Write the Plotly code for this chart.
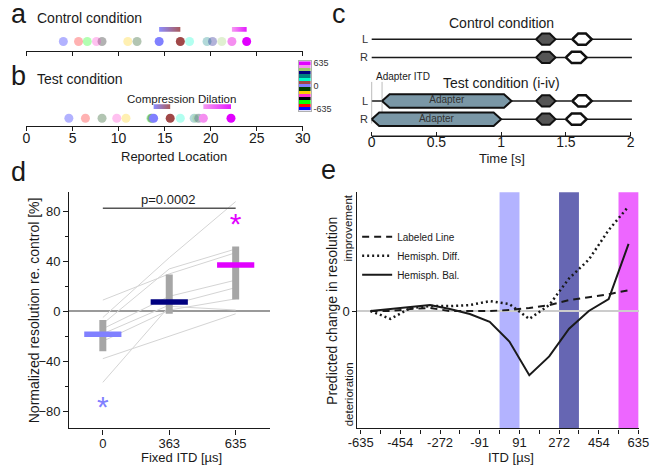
import plotly.graph_objects as go

W, H = 660, 468
FONT = "Liberation Sans, Arial, sans-serif"
INK = "#1a1a1a"

# ---------------- data ----------------
ITD_LEVELS = [-635, -544, -454, -363, -272, -181, -91, 0, 91, 181, 272, 363, 454, 544, 635]
LEVEL_COLORS = ["#0000ff", "#ff0000", "#00ff00", "#000000", "#ff33cc", "#ffcc00",
                "#004000", "#8080ff", "#a04848", "#00ffcc", "#008080", "#000080",
                "#99cc66", "#f58ff0", "#e100ff"]
HIGHLIGHT_ITDS = [0, 91, 544, 635]
CONTROL_LOC = [4.0, 5.65, 6.6, 8.2, 7.6, 11.0, 12.0, 14.4, 16.7, 17.7, 19.6, 20.2, 21.2, 22.3, 23.9]
TEST_LOC = [4.6, 6.4, 13.5, 13.6, 9.8, 10.8, 8.2, 13.8, 15.6, 16.7, 18.2, 18.7, 18.5, 19.2, 22.2]
COMPRESSION_PAIR = (0, 91)
DILATION_PAIR = (544, 635)
LOC_TICKS = [0, 5, 10, 15, 20, 25, 30]

# panel c: stimulus timing [s]
EARS = ["L", "R"]
TRIAL_END = 2.01
PROBE1 = {"L": (1.27, 1.42), "R": (1.27, 1.42)}
PROBE2 = {"L": (1.55, 1.70), "R": (1.50, 1.66)}
ADAPTER = {"L": (0.08, 1.08), "R": (0.0, 1.0)}
TIME_TICKS = [0, 0.5, 1, 1.5, 2]
TIME_LABELS = ["0", "0.5", "1", "1.5", "2"]

# panel d
FIXED_ITD = ["0", "363", "635"]
SUBJECTS = [
    [9, 30, 47],
    [-5, 43, 88],
    [-10, 34, 50],
    [-14, 12, 25],
    [-18, 5, 19],
    [-24, 1, 10],
    [-38, -20, -2],
    [-57, 4, 1],
]
MEAN = [-18.5, 7.5, 37.2]
SPREAD_LO = [-32, -2, 9.5]
SPREAD_HI = [-7, 29.5, 52]
SIG_LEVEL = 82.6
P_TEXT = "p=0.0002"
STAR_Y = [-79, None, 68]
D_YTICKS = [-80, -40, 0, 40, 80]
D_MINOR = [-60, -20, 20, 60]

# panel e (arbitrary units)
MODEL_ITD = [-590, -499, -408, -318, -227, -136, -45, 45, 136, 227, 318, 408, 499, 590]
LABELED_LINE = [0, 0, 2, 3, 0, 0, 0, 1, 3, 6, 11, 14, 17, 21]
HEMI_DIFF = [0, -8, 3, 5, 5, 6, 10, 7, -8, 6, 33, 52, 82, 106]
HEMI_BAL = [0, 2, 4, 6, 2, -3, -11, -31, -65, -46, -18, 0, 12, 68]
BANDS = [(0, 91), (272, 363), (544, 635)]
BAND_ITDS = [0, 363, 635]


# ---------------- helpers ----------------
def dom_x(p0, p1):
    return [p0 / W, p1 / W]


def dom_y(top, bottom):
    return [1 - bottom / H, 1 - top / H]


def px(p):
    return p / W


def py(p):
    return 1 - p / H


def rgba(hexc, a):
    h = hexc.lstrip("#")
    r, g, b = int(h[0:2], 16), int(h[2:4], 16), int(h[4:6], 16)
    return f"rgba({r},{g},{b},{a})"


def color_of(itd):
    return LEVEL_COLORS[ITD_LEVELS.index(itd)]


def hexagon(t0, t1, y, h, d):
    xs = [t0, t0 + d, t1 - d, t1, t1 - d, t0 + d, t0]
    ys = [y, y - h, y - h, y, y + h, y + h, y]
    return xs, ys


fig = go.Figure()

# ---------------- panels a & b ----------------
DOT_LEVEL = {"a": 10, "b": 8.3}
BAR_LEVEL = {"a": 22.3, "b": 20}
BAR_HALF = 2.4
for key, locs, xa, ya in [("a", CONTROL_LOC, "x", "y"), ("b", TEST_LOC, "x2", "y2")]:
    order = [i for i in range(len(ITD_LEVELS)) if ITD_LEVELS[i] not in HIGHLIGHT_ITDS] + \
            [i for i in range(len(ITD_LEVELS)) if ITD_LEVELS[i] in HIGHLIGHT_ITDS]
    fig.add_trace(go.Scatter(
        x=[locs[i] for i in order], y=[DOT_LEVEL[key]] * len(order), mode="markers",
        marker=dict(size=9, color=[rgba(LEVEL_COLORS[i], 1 if ITD_LEVELS[i] in HIGHLIGHT_ITDS else 0.3)
                                   for i in order], line=dict(width=0)),
        xaxis=xa, yaxis=ya, showlegend=False, hoverinfo="skip"))
    for a, b in [COMPRESSION_PAIR, DILATION_PAIR]:
        x0 = locs[ITD_LEVELS.index(a)]
        x1 = locs[ITD_LEVELS.index(b)]
        y0, y1 = BAR_LEVEL[key] - BAR_HALF, BAR_LEVEL[key] + BAR_HALF
        fig.add_trace(go.Scatter(
            x=[x0, x1, x1, x0, x0], y=[y0, y0, y1, y1, y0], mode="lines", fill="toself",
            fillgradient=dict(type="horizontal", colorscale=[[0, rgba(color_of(a), 0.9)], [1, rgba(color_of(b), 0.9)]]),
            line=dict(width=0, color="rgba(0,0,0,0)"),
            xaxis=xa, yaxis=ya, showlegend=False, hoverinfo="skip"))

# colour key
ncol = len(ITD_LEVELS)
cscale = []
for i, c in enumerate(LEVEL_COLORS):
    cscale.append([i / ncol, c])
    cscale.append([(i + 1) / ncol, c])
fig.add_trace(go.Heatmap(
    z=[[i] for i in range(ncol)], x=[0], y=list(range(ncol)), colorscale=cscale,
    zmin=-0.5, zmax=ncol - 0.5, showscale=False, xaxis="x3", yaxis="y3", hoverinfo="skip"))

# ---------------- panel c ----------------
ROW_Y = {"control": {"L": 0.0, "R": 1.0}, "test": {"L": 3.4, "R": 4.4}}
H_PROBE, D_PROBE = 0.31, 0.045
H_ADAPT, D_ADAPT = 0.37, 0.058
for cond in ["control", "test"]:
    for ear in EARS:
        y = ROW_Y[cond][ear]
        fig.add_trace(go.Scatter(x=[0, TRIAL_END], y=[y, y], mode="lines",
                                 line=dict(color=INK, width=1.5), xaxis="x4", yaxis="y4",
                                 showlegend=False, hoverinfo="skip"))
for ear in EARS:
    on = ADAPTER[ear][0]
    fig.add_trace(go.Scatter(x=[on, on], y=[2.35, 4.64], mode="lines",
                             line=dict(color="#aaaaaa", width=0.8), xaxis="x4", yaxis="y4",
                             showlegend=False, hoverinfo="skip"))
for cond in ["control", "test"]:
    for ear in EARS:
        y = ROW_Y[cond][ear]
        if cond == "test":
            xs, ys = hexagon(ADAPTER[ear][0], ADAPTER[ear][1], y, H_ADAPT, D_ADAPT)
            fig.add_trace(go.Scatter(x=xs, y=ys, mode="lines", fill="toself", fillcolor="#7a97a6",
                                     line=dict(color="#111111", width=2), xaxis="x4", yaxis="y4",
                                     showlegend=False, hoverinfo="skip"))
            fig.add_trace(go.Scatter(x=[(ADAPTER[ear][0] + ADAPTER[ear][1]) / 2], y=[y], mode="text",
                                     text=["Adapter"], textfont=dict(size=10, color="#333333", family=FONT),
                                     xaxis="x4", yaxis="y4", showlegend=False, hoverinfo="skip"))
        xs, ys = hexagon(PROBE1[ear][0], PROBE1[ear][1], y, H_PROBE, D_PROBE)
        fig.add_trace(go.Scatter(x=xs, y=ys, mode="lines", fill="toself", fillcolor="#555555",
                                 line=dict(color="#111111", width=2), xaxis="x4", yaxis="y4",
                                 showlegend=False, hoverinfo="skip"))
        xs, ys = hexagon(PROBE2[ear][0], PROBE2[ear][1], y, H_PROBE, D_PROBE)
        fig.add_trace(go.Scatter(x=xs, y=ys, mode="lines", fill="toself", fillcolor="white",
                                 line=dict(color="#111111", width=2.5), xaxis="x4", yaxis="y4",
                                 showlegend=False, hoverinfo="skip"))

# ---------------- panel d ----------------
IDX = list(range(len(FIXED_ITD)))
for s in SUBJECTS:
    fig.add_trace(go.Scatter(x=IDX, y=s, mode="lines", line=dict(color="#d4d4d4", width=1),
                             xaxis="x5", yaxis="y5", showlegend=False, hoverinfo="skip"))
for i in IDX:
    fig.add_trace(go.Scatter(x=[i, i], y=[SPREAD_LO[i], SPREAD_HI[i]], mode="lines",
                             line=dict(color="#a6a6a6", width=7), xaxis="x5", yaxis="y5",
                             showlegend=False, hoverinfo="skip"))
for i in IDX:
    c = color_of(int(FIXED_ITD[i]))
    fig.add_trace(go.Scatter(x=[i - 0.28, i + 0.28], y=[MEAN[i], MEAN[i]], mode="lines",
                             line=dict(color=c, width=5.5), xaxis="x5", yaxis="y5",
                             showlegend=False, hoverinfo="skip"))
fig.add_trace(go.Scatter(x=[IDX[0], IDX[-1]], y=[SIG_LEVEL, SIG_LEVEL], mode="lines",
                         line=dict(color="#555555", width=1.5), xaxis="x5", yaxis="y5",
                         showlegend=False, hoverinfo="skip"))
for i in IDX:
    if STAR_Y[i] is not None:
        fig.add_trace(go.Scatter(x=[i], y=[STAR_Y[i]], mode="text", text=["*"],
                                 textfont=dict(size=30, color=color_of(int(FIXED_ITD[i])), family=FONT),
                                 xaxis="x5", yaxis="y5", showlegend=False, hoverinfo="skip"))

# ---------------- panel e ----------------
shapes = []
for (b0, b1), itd in zip(BANDS, BAND_ITDS):
    shapes.append(dict(type="rect", xref="x6", yref="y6 domain", x0=b0, x1=b1, y0=0, y1=1,
                       fillcolor=color_of(itd), opacity=0.6, line=dict(width=0), layer="below"))
fig.add_trace(go.Scatter(x=MODEL_ITD, y=LABELED_LINE, mode="lines", name="Labeled Line",
                         line=dict(color=INK, width=2, dash="7px,5px"), xaxis="x6", yaxis="y6"))
fig.add_trace(go.Scatter(x=MODEL_ITD, y=HEMI_DIFF, mode="lines", name="Hemisph. Diff.",
                         line=dict(color=INK, width=2.5, dash="2px,3px"), xaxis="x6", yaxis="y6"))
fig.add_trace(go.Scatter(x=MODEL_ITD, y=HEMI_BAL, mode="lines", name="Hemisph. Bal.",
                         line=dict(color=INK, width=2), xaxis="x6", yaxis="y6"))

# panel c axis line (0..2 s)
shapes.append(dict(type="line", xref="x4", yref="y4 domain", x0=TIME_TICKS[0], x1=TIME_TICKS[-1],
                   y0=0, y1=0, line=dict(color=INK, width=1.5)))

# ---------------- layout ----------------
axis_common = dict(showgrid=False, zeroline=False, linecolor=INK, tickcolor=INK,
                   tickfont=dict(family=FONT, color=INK))

ann = []


def text(t, x, y, size, xanchor="center", angle=0, color=INK):
    ann.append(dict(text=t, x=px(x), y=py(y), xref="paper", yref="paper", showarrow=False,
                    xanchor=xanchor, yanchor="middle", textangle=angle,
                    font=dict(size=size, family=FONT, color=color)))


text("a", 9, 11, 27)
text("Control condition", 26, 15, 14, "left")
text("b", 9, 74, 27)
text("Test condition", 26, 77, 14, "left")
text("Compression Dilation", 177, 97, 11.5)
text("Reported Location", 169, 155, 13)
text("c", 339, 11, 27)
text("Control condition", 507, 20, 14)
text("Test condition (i-iv)", 507, 81.5, 14)
text("Adapter ITD", 375, 74, 10, "left")
text("Time [s]", 507, 158, 13)
text("d", 9, 171, 27)
text("Normalized resolution re. control [%]", 25, 311, 14, angle=-90)
text("Fixed ITD [µs]", 177, 460, 13)
text(P_TEXT, 163, 199, 13)
text("e", 328, 169, 27)
text("Predicted change in resolution", 332, 312, 14, angle=-90)
text("improvement", 349, 228, 11.5, angle=-90)
text("deterioration", 349, 396, 11.5, angle=-90)
text("ITD [µs]", 517, 460, 13)
for ear, cond in [("L", "control"), ("R", "control"), ("L", "test"), ("R", "test")]:
    ann.append(dict(text=ear, x=-0.012, y=ROW_Y[cond][ear], xref="x4", yref="y4", showarrow=False,
                    xanchor="right", yanchor="middle", font=dict(size=11, family=FONT, color="#333333")))

e_ticktext = [str(v) if i % 2 == 0 else "" for i, v in enumerate(ITD_LEVELS)]

fig.update_layout(
    width=W, height=H, margin=dict(l=0, r=0, t=0, b=0),
    paper_bgcolor="white", plot_bgcolor="white",
    font=dict(family=FONT, color=INK),
    shapes=shapes, annotations=ann,
    legend=dict(x=px(358), y=py(222), xanchor="left", yanchor="top", bgcolor="rgba(0,0,0,0)",
                font=dict(size=10, family=FONT, color=INK), tracegroupgap=0, itemwidth=30),
    # panel a
    xaxis=dict(axis_common, domain=dom_x(17, 302), range=[0, 30], anchor="y", showline=True,
               linewidth=1.2, ticks="outside", ticklen=4, tickvals=LOC_TICKS, showticklabels=False),
    yaxis=dict(axis_common, domain=dom_y(14, 49), range=[0, 35], anchor="x", visible=False),
    # panel b
    xaxis2=dict(axis_common, domain=dom_x(17, 302), range=[0, 30], anchor="y2", showline=True,
                linewidth=1.2, ticks="outside", ticklen=4, tickvals=LOC_TICKS, ticklabelstandoff=-5,
                tickfont=dict(size=14, family=FONT, color=INK)),
    yaxis2=dict(axis_common, domain=dom_y(88, 125), range=[0, 37], anchor="x2", visible=False),
    # colour key
    xaxis3=dict(axis_common, domain=dom_x(298, 310), range=[-0.5, 0.5], anchor="y3", showline=True,
                mirror=True, linecolor="#b0b0b0", ticks="", showticklabels=False),
    yaxis3=dict(axis_common, domain=dom_y(59, 109), range=[-0.5, ncol - 0.5], anchor="x3", side="right",
                showline=True, mirror=True, linecolor="#b0b0b0", ticks="",
                tickvals=[0, ITD_LEVELS.index(0), ncol - 1],
                ticktext=[str(ITD_LEVELS[0]), "0", str(ITD_LEVELS[-1])],
                tickfont=dict(size=9, family=FONT, color="#333333")),
    # panel c
    xaxis4=dict(axis_common, domain=dom_x(369, 644), range=[-0.03, 2.03], anchor="y4", showline=False,
                ticks="inside", ticklen=4, tickwidth=1.2, tickvals=TIME_TICKS, ticktext=TIME_LABELS,
                ticklabelstandoff=-4, tickfont=dict(size=14, family=FONT, color=INK)),
    yaxis4=dict(axis_common, domain=dom_y(14, 135), range=[5.342, -1.234], anchor="x4", visible=False),
    # panel d
    xaxis5=dict(axis_common, domain=dom_x(61, 268), range=[-0.507, 2.515], anchor="y5", showline=True,
                linewidth=1.2, ticks="outside", ticklen=5, tickvals=IDX, ticktext=FIXED_ITD,
                ticklabelstandoff=-2, tickfont=dict(size=13, family=FONT, color=INK)),
    yaxis5=dict(axis_common, domain=dom_y(191.7, 431), range=[-94, 95.5], anchor="x5", showline=True,
                linewidth=1.2, ticks="outside", ticklen=5, tickvals=D_YTICKS,
                minor=dict(tickvals=D_MINOR, ticks="outside", ticklen=3, tickcolor=INK),
                zeroline=True, zerolinecolor="#9a9a9a", zerolinewidth=1.5,
                tickfont=dict(size=13, family=FONT, color=INK)),
    # panel e
    xaxis6=dict(axis_common, domain=dom_x(358.3, 648.5), range=[-650, 637], anchor="y6", showline=True,
                linewidth=1.2, ticks="outside", ticklen=4, tickvals=ITD_LEVELS, ticktext=e_ticktext,
                ticklabelstandoff=-2, tickfont=dict(size=13, family=FONT, color=INK)),
    yaxis6=dict(axis_common, domain=dom_y(191.7, 431), range=[-119, 120.3], anchor="x6", showline=True,
                linewidth=1.2, ticks="outside", ticklen=4, tickvals=[0], ticktext=["0"],
                zeroline=True, zerolinecolor="#cccccc", zerolinewidth=1.5,
                tickfont=dict(size=13, family=FONT, color=INK)),
)

fig.write_html("out.html", config={"displayModeBar": False, "responsive": False},
               post_script="document.body.style.margin='0px';")
